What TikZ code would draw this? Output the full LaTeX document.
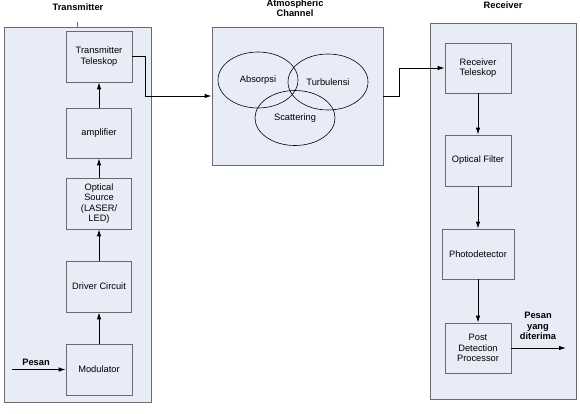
\documentclass[tikz,border=0pt]{standalone}
\usepackage{fontspec}
\setmainfont{Liberation Sans}
\usepackage{tikz}
\usepackage{xcolor}
\usetikzlibrary{shapes.geometric,arrows.meta}

\definecolor{panelfill}{RGB}{232,236,246}
\definecolor{edgegray}{RGB}{105,105,110}

\begin{document}
\begin{tikzpicture}[x=1pt,y=-1pt,
  font=\fontsize{9.3}{10.6}\selectfont,
  panel/.style={draw=edgegray, line width=0.8pt, fill=panelfill, rectangle},
  block/.style={draw=edgegray, line width=0.7pt, fill=panelfill, rectangle, align=center, inner sep=1pt},
  blob/.style={draw=black, line width=0.6pt, ellipse, minimum width=80pt, minimum height=56pt},
  title/.style={font=\fontsize{9.3}{10.3}\selectfont\bfseries, align=center},
  arr/.style={-{Latex[length=7pt,width=4.5pt]}, line width=0.9pt}]
\useasboundingbox (0,0) rectangle (580,413);

% Transmitter
\node[panel, minimum width=147pt, minimum height=375pt] (tx) at (77.5,214.5) {};
\node[title] (txt) at (78,7) {Transmitter};
\draw[edgegray, line width=0.7pt] (tx.north) -- ++(0,-5);
\node[block, minimum width=66pt, minimum height=51pt] (ttel) at (99,56.5) {Transmitter\\Teleskop};
\node[block, minimum width=65pt, minimum height=50pt] (amp) at (99,133) {amplifier};
\node[block, minimum width=65pt, minimum height=51pt] (osrc) at (99,203.5) {Optical\\Source\\(LASER/\\LED)};
\node[block, minimum width=65pt, minimum height=51pt] (drv) at (99,286.5) {Driver Circuit};
\node[block, minimum width=66pt, minimum height=51pt] (mod) at (99,369.5) {Modulator};
\coordinate (pin) at (12,369.5);
\node[title] (pinl) at (36,362.5) {Pesan};

% Atmospheric Channel
\node[panel, minimum width=171pt, minimum height=138pt] (chan) at (297.5,96) {};
\node[title] (chant) at (295,8) {Atmospheric\\Channel};
\node[blob] (abs) at (258,80) {Absorpsi};
\node[blob] (turb) at (328,82) {Turbulensi};
\node[blob, minimum height=55pt] (scat) at (295,118) {Scattering};

% Receiver
\node[panel, minimum width=146pt, minimum height=376pt] (rx) at (503,211) {};
\node[title] (rxt) at (503,5) {Receiver};
\node[block, minimum width=66pt, minimum height=50pt] (rtel) at (478,68) {Receiver\\Teleskop};
\node[block, minimum width=66pt, minimum height=51pt] (ofil) at (478,160.5) {Optical Filter};
\node[block, minimum width=72pt, minimum height=50pt] (phd) at (478,254) {Photodetector};
\node[block, minimum width=66pt, minimum height=50pt] (pdp) at (478,348) {Post\\Detection\\Processor};
\coordinate (pout) at (566,348);
\node[title, font=\fontsize{9.3}{10.6}\selectfont\bfseries] (poutl) at (538,326) {Pesan\\yang\\diterima};

% connectors
\draw[arr] (pin) -- (mod.west);
\draw[arr] (mod.north) -- (drv.south);
\draw[arr] (drv.north) -- (osrc.south);
\draw[arr] (osrc.north) -- (amp.south);
\draw[arr] (amp.north) -- (ttel.south);
\draw[arr] (ttel.east) -- ++(13,0) |- (chan.west);
\draw[arr] (chan.east) -- ++(16,0) |- (rtel.west);
\draw[arr] (rtel.south) -- (ofil.north);
\draw[arr] (ofil.south) -- (phd.north);
\draw[arr] (phd.south) -- (pdp.north);
\draw[arr] (pdp.east) -- (pout);
\end{tikzpicture}
\end{document}
